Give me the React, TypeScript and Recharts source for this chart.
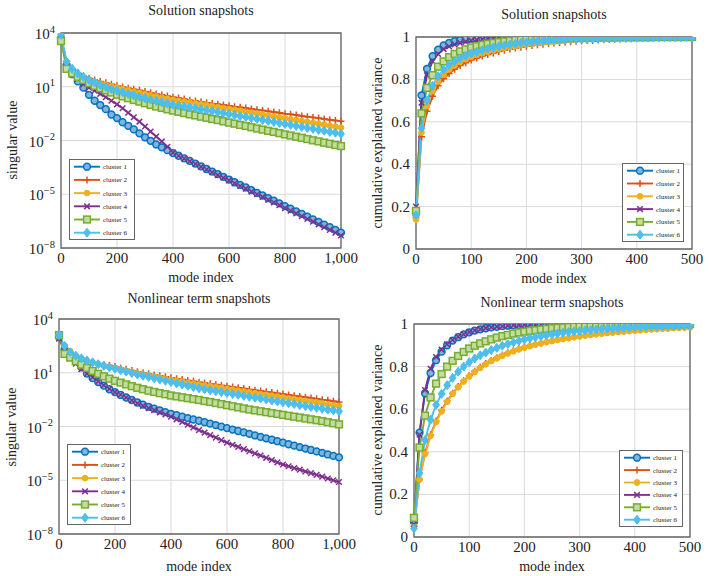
import React from 'react';
import { LineChart, Line, XAxis, YAxis, CartesianGrid, ReferenceArea } from 'recharts';

const FONT = '"Liberation Serif", "DejaVu Serif", serif';

// mode index positions of the plotted markers
const modeIndex1000 = [
  0, 20, 40, 60, 80, 100, 120, 140, 160, 180, 200, 220, 240, 260, 280, 300, 320, 340, 360, 380, 400,
  420, 440, 460, 480, 500, 520, 540, 560, 580, 600, 620, 640, 660, 680, 700, 720, 740, 760, 780, 800,
  820, 840, 860, 880, 900, 920, 940, 960, 980, 1000,
];
const modeIndex500 = [
  0, 10, 20, 30, 40, 50, 60, 70, 80, 90, 100, 110, 120, 130, 140, 150, 160, 170, 180, 190, 200,
  210, 220, 230, 240, 250, 260, 270, 280, 290, 300, 310, 320, 330, 340, 350, 360, 370, 380, 390, 400,
  410, 420, 430, 440, 450, 460, 470, 480, 490, 500,
];

// Solution snapshots: singular values, stored as log10
const solSvLog1 = [3.7, 2.2, 1.7, 1.3, 0.95, 0.55, 0.22, -0.02, -0.25, -0.55, -0.75, -0.98, -1.18, -1.38, -1.6, -1.82, -2.02, -2.22, -2.38, -2.54, -2.7, -2.85, -3.0, -3.14, -3.29, -3.44, -3.59, -3.74, -3.88, -4.03, -4.18, -4.33, -4.48, -4.62, -4.77, -4.92, -5.07, -5.22, -5.36, -5.51, -5.66, -5.81, -5.96, -6.1, -6.25, -6.4, -6.55, -6.7, -6.84, -6.99, -7.14];
const solSvLog2 = [3.7, 2.4, 2.0, 1.75, 1.6, 1.48, 1.38, 1.3, 1.22, 1.14, 1.06, 0.99, 0.92, 0.86, 0.8, 0.73, 0.67, 0.6, 0.54, 0.48, 0.42, 0.37, 0.31, 0.25, 0.2, 0.15, 0.11, 0.06, 0.02, -0.02, -0.06, -0.11, -0.15, -0.19, -0.24, -0.28, -0.32, -0.37, -0.41, -0.45, -0.5, -0.54, -0.58, -0.63, -0.67, -0.71, -0.75, -0.8, -0.84, -0.88, -0.93];
const solSvLog3 = [3.7, 2.4, 1.95, 1.7, 1.52, 1.4, 1.28, 1.18, 1.1, 1.02, 0.95, 0.87, 0.8, 0.73, 0.66, 0.59, 0.52, 0.46, 0.39, 0.33, 0.27, 0.22, 0.17, 0.12, 0.07, 0.02, -0.03, -0.08, -0.14, -0.19, -0.24, -0.29, -0.34, -0.4, -0.45, -0.5, -0.55, -0.6, -0.66, -0.71, -0.76, -0.81, -0.86, -0.92, -0.97, -1.02, -1.07, -1.12, -1.18, -1.23, -1.28];
const solSvLog4 = [3.7, 2.3, 1.85, 1.45, 1.15, 0.95, 0.78, 0.6, 0.42, 0.22, 0.02, -0.2, -0.45, -0.7, -0.95, -1.22, -1.5, -1.78, -2.05, -2.35, -2.68, -2.85, -3.01, -3.16, -3.31, -3.47, -3.62, -3.77, -3.93, -4.08, -4.23, -4.39, -4.54, -4.69, -4.85, -5.0, -5.15, -5.31, -5.46, -5.61, -5.77, -5.92, -6.07, -6.23, -6.38, -6.53, -6.69, -6.84, -6.99, -7.15, -7.3];
const solSvLog5 = [3.55, 2.0, 1.75, 1.55, 1.38, 1.2, 1.05, 0.92, 0.8, 0.68, 0.56, 0.46, 0.36, 0.26, 0.17, 0.08, -0.01, -0.1, -0.18, -0.26, -0.33, -0.4, -0.47, -0.54, -0.6, -0.67, -0.73, -0.8, -0.86, -0.93, -1.0, -1.06, -1.13, -1.19, -1.26, -1.33, -1.39, -1.46, -1.52, -1.59, -1.66, -1.72, -1.79, -1.85, -1.92, -1.99, -2.05, -2.12, -2.18, -2.25, -2.31];
const solSvLog6 = [3.9, 2.4, 2.0, 1.75, 1.55, 1.38, 1.23, 1.1, 0.98, 0.87, 0.78, 0.69, 0.6, 0.52, 0.44, 0.36, 0.28, 0.21, 0.14, 0.07, 0.0, -0.05, -0.1, -0.15, -0.2, -0.25, -0.31, -0.36, -0.42, -0.47, -0.53, -0.58, -0.64, -0.69, -0.75, -0.8, -0.86, -0.91, -0.97, -1.02, -1.08, -1.13, -1.19, -1.24, -1.3, -1.35, -1.41, -1.46, -1.52, -1.57, -1.63];

// Nonlinear term snapshots: singular values, log10
const nlSvLog1 = [3.0, 2.3, 1.95, 1.65, 1.3, 0.95, 0.7, 0.48, 0.28, 0.08, -0.08, -0.24, -0.38, -0.52, -0.66, -0.78, -0.9, -1.0, -1.1, -1.2, -1.29, -1.37, -1.45, -1.53, -1.61, -1.68, -1.76, -1.84, -1.92, -2.01, -2.09, -2.17, -2.25, -2.33, -2.41, -2.5, -2.58, -2.66, -2.74, -2.82, -2.9, -2.99, -3.07, -3.15, -3.23, -3.31, -3.39, -3.47, -3.56, -3.64, -3.72];
const nlSvLog2 = [3.0, 2.45, 2.15, 1.95, 1.8, 1.68, 1.6, 1.52, 1.45, 1.4, 1.35, 1.27, 1.2, 1.13, 1.06, 1.0, 0.94, 0.88, 0.83, 0.77, 0.72, 0.67, 0.62, 0.57, 0.52, 0.47, 0.43, 0.38, 0.34, 0.29, 0.25, 0.2, 0.16, 0.12, 0.07, 0.03, -0.02, -0.06, -0.1, -0.15, -0.19, -0.24, -0.28, -0.32, -0.37, -0.41, -0.45, -0.5, -0.54, -0.59, -0.63];
const nlSvLog3 = [3.0, 2.5, 2.2, 1.95, 1.8, 1.67, 1.57, 1.48, 1.4, 1.33, 1.26, 1.18, 1.11, 1.04, 0.97, 0.9, 0.84, 0.78, 0.72, 0.66, 0.6, 0.55, 0.5, 0.44, 0.39, 0.34, 0.29, 0.25, 0.2, 0.15, 0.1, 0.05, 0.0, -0.04, -0.09, -0.14, -0.19, -0.23, -0.28, -0.33, -0.38, -0.43, -0.47, -0.52, -0.57, -0.62, -0.66, -0.71, -0.76, -0.81, -0.86];
const nlSvLog4 = [2.9, 2.2, 1.8, 1.5, 1.2, 0.95, 0.75, 0.52, 0.3, 0.1, -0.08, -0.22, -0.38, -0.54, -0.7, -0.85, -0.97, -1.09, -1.21, -1.33, -1.45, -1.6, -1.75, -1.9, -2.05, -2.2, -2.34, -2.48, -2.62, -2.76, -2.9, -3.02, -3.14, -3.26, -3.38, -3.5, -3.62, -3.75, -3.87, -4.0, -4.12, -4.22, -4.32, -4.41, -4.51, -4.6, -4.7, -4.8, -4.9, -5.0, -5.1];
const nlSvLog5 = [3.1, 2.05, 1.85, 1.65, 1.45, 1.27, 1.1, 0.94, 0.8, 0.67, 0.55, 0.45, 0.35, 0.25, 0.16, 0.08, 0.0, -0.07, -0.14, -0.2, -0.27, -0.32, -0.37, -0.42, -0.47, -0.52, -0.58, -0.63, -0.69, -0.75, -0.81, -0.87, -0.93, -0.99, -1.05, -1.1, -1.15, -1.2, -1.25, -1.3, -1.35, -1.4, -1.45, -1.5, -1.55, -1.6, -1.65, -1.7, -1.76, -1.82, -1.88];
const nlSvLog6 = [3.1, 2.5, 2.15, 1.95, 1.8, 1.68, 1.58, 1.48, 1.39, 1.3, 1.22, 1.14, 1.06, 0.98, 0.9, 0.83, 0.76, 0.69, 0.62, 0.55, 0.48, 0.41, 0.34, 0.27, 0.2, 0.13, 0.08, 0.03, -0.03, -0.08, -0.13, -0.18, -0.23, -0.29, -0.34, -0.39, -0.44, -0.49, -0.55, -0.6, -0.65, -0.7, -0.75, -0.81, -0.86, -0.91, -0.96, -1.01, -1.06, -1.1, -1.15];

// Solution snapshots: cumulative explained variance
const solCev1 = [0.17, 0.725, 0.85, 0.91, 0.94, 0.96, 0.972, 0.98, 0.985, 0.989, 0.992, 0.994, 0.995, 0.996, 0.997, 0.998, 0.998, 0.999, 0.999, 0.999, 1, 1, 1, 1, 1, 1, 1, 1, 1, 1, 1, 1, 1, 1, 1, 1, 1, 1, 1, 1, 1, 1, 1, 1, 1, 1, 1, 1, 1, 1, 1];
const solCev2 = [0.15, 0.53, 0.65, 0.72, 0.77, 0.803, 0.828, 0.848, 0.865, 0.879, 0.891, 0.901, 0.91, 0.918, 0.925, 0.932, 0.938, 0.943, 0.948, 0.952, 0.956, 0.96, 0.963, 0.966, 0.969, 0.972, 0.974, 0.976, 0.978, 0.98, 0.982, 0.983, 0.984, 0.986, 0.987, 0.988, 0.989, 0.99, 0.991, 0.992, 0.993, 0.994, 0.994, 0.995, 0.995, 0.996, 0.996, 0.997, 0.997, 0.998, 0.998];
const solCev3 = [0.14, 0.55, 0.675, 0.745, 0.79, 0.822, 0.847, 0.866, 0.882, 0.895, 0.906, 0.915, 0.923, 0.93, 0.937, 0.943, 0.948, 0.953, 0.957, 0.961, 0.965, 0.968, 0.971, 0.974, 0.976, 0.978, 0.98, 0.982, 0.984, 0.986, 0.987, 0.988, 0.989, 0.99, 0.991, 0.992, 0.993, 0.994, 0.994, 0.995, 0.996, 0.996, 0.997, 0.997, 0.997, 0.998, 0.998, 0.998, 0.999, 0.999, 0.999];
const solCev4 = [0.2, 0.69, 0.82, 0.885, 0.92, 0.943, 0.955, 0.965, 0.972, 0.978, 0.983, 0.987, 0.99, 0.992, 0.994, 0.995, 0.996, 0.997, 0.998, 0.998, 0.999, 0.999, 0.999, 0.999, 1, 1, 1, 1, 1, 1, 1, 1, 1, 1, 1, 1, 1, 1, 1, 1, 1, 1, 1, 1, 1, 1, 1, 1, 1, 1, 1];
const solCev5 = [0.18, 0.64, 0.76, 0.82, 0.86, 0.885, 0.905, 0.92, 0.932, 0.942, 0.95, 0.957, 0.963, 0.968, 0.972, 0.976, 0.979, 0.982, 0.985, 0.987, 0.989, 0.99, 0.991, 0.992, 0.993, 0.994, 0.995, 0.995, 0.996, 0.996, 0.997, 0.997, 0.997, 0.998, 0.998, 0.998, 0.998, 0.999, 0.999, 0.999, 0.999, 0.999, 0.999, 1, 1, 1, 1, 1, 1, 1, 1];
const solCev6 = [0.16, 0.57, 0.7, 0.77, 0.815, 0.845, 0.868, 0.885, 0.9, 0.912, 0.922, 0.93, 0.938, 0.945, 0.951, 0.956, 0.96, 0.965, 0.968, 0.972, 0.975, 0.977, 0.98, 0.982, 0.984, 0.986, 0.987, 0.988, 0.99, 0.991, 0.992, 0.993, 0.993, 0.994, 0.995, 0.995, 0.996, 0.996, 0.997, 0.997, 0.997, 0.998, 0.998, 0.998, 0.998, 0.999, 0.999, 0.999, 0.999, 0.999, 0.999];

// Nonlinear term snapshots: cumulative explained variance
const nlCev1 = [0.07, 0.49, 0.675, 0.77, 0.83, 0.87, 0.9, 0.922, 0.938, 0.951, 0.961, 0.969, 0.975, 0.98, 0.984, 0.987, 0.99, 0.992, 0.994, 0.995, 0.996, 0.997, 0.997, 0.998, 0.998, 0.998, 0.999, 0.999, 0.999, 0.999, 0.999, 1, 1, 1, 1, 1, 1, 1, 1, 1, 1, 1, 1, 1, 1, 1, 1, 1, 1, 1, 1];
const nlCev2 = [0.05, 0.27, 0.395, 0.48, 0.545, 0.595, 0.638, 0.675, 0.706, 0.733, 0.757, 0.778, 0.797, 0.814, 0.829, 0.842, 0.854, 0.865, 0.875, 0.884, 0.892, 0.899, 0.905, 0.911, 0.917, 0.922, 0.927, 0.932, 0.936, 0.94, 0.944, 0.948, 0.951, 0.954, 0.957, 0.96, 0.962, 0.965, 0.967, 0.969, 0.971, 0.973, 0.975, 0.977, 0.978, 0.98, 0.981, 0.983, 0.984, 0.985, 0.986];
const nlCev3 = [0.05, 0.27, 0.39, 0.475, 0.54, 0.59, 0.635, 0.672, 0.703, 0.73, 0.754, 0.775, 0.794, 0.811, 0.826, 0.839, 0.851, 0.862, 0.872, 0.881, 0.889, 0.896, 0.903, 0.909, 0.915, 0.92, 0.925, 0.93, 0.934, 0.938, 0.942, 0.946, 0.949, 0.952, 0.955, 0.958, 0.96, 0.963, 0.965, 0.967, 0.969, 0.971, 0.973, 0.975, 0.976, 0.978, 0.979, 0.981, 0.982, 0.983, 0.984];
const nlCev4 = [0.06, 0.48, 0.69, 0.79, 0.845, 0.88, 0.905, 0.925, 0.94, 0.952, 0.962, 0.97, 0.976, 0.981, 0.985, 0.988, 0.99, 0.992, 0.994, 0.995, 0.996, 0.997, 0.997, 0.998, 0.998, 0.998, 0.999, 0.999, 0.999, 0.999, 0.999, 1, 1, 1, 1, 1, 1, 1, 1, 1, 1, 1, 1, 1, 1, 1, 1, 1, 1, 1, 1];
const nlCev5 = [0.09, 0.42, 0.57, 0.655, 0.72, 0.765, 0.8, 0.827, 0.85, 0.869, 0.885, 0.898, 0.909, 0.919, 0.928, 0.936, 0.943, 0.949, 0.955, 0.96, 0.964, 0.968, 0.971, 0.974, 0.977, 0.98, 0.982, 0.984, 0.986, 0.988, 0.989, 0.99, 0.991, 0.992, 0.993, 0.994, 0.995, 0.995, 0.996, 0.996, 0.997, 0.997, 0.998, 0.998, 0.998, 0.999, 0.999, 0.999, 0.999, 1, 1];
const nlCev6 = [0.04, 0.3, 0.455, 0.55, 0.62, 0.672, 0.713, 0.747, 0.776, 0.8, 0.82, 0.838, 0.853, 0.866, 0.878, 0.888, 0.898, 0.906, 0.914, 0.921, 0.927, 0.933, 0.938, 0.943, 0.947, 0.951, 0.955, 0.959, 0.962, 0.965, 0.967, 0.97, 0.972, 0.974, 0.976, 0.978, 0.979, 0.981, 0.982, 0.984, 0.985, 0.986, 0.987, 0.988, 0.989, 0.99, 0.991, 0.991, 0.992, 0.993, 0.993];

const clusterNames = ['cluster 1', 'cluster 2', 'cluster 3', 'cluster 4', 'cluster 5', 'cluster 6'];
const xTicks1000 = [0, 200, 400, 600, 800, 1000];
const xTicks500 = [0, 100, 200, 300, 400, 500];
const logTicks = [1e-8, 1e-5, 1e-2, 1e1, 1e4];
const linTicks = [0, 0.2, 0.4, 0.6, 0.8, 1];

type Shape = 'circle' | 'plus' | 'dot' | 'cross' | 'square' | 'diamond';
const SERIES: { key: string; color: string; fill: string; shape: Shape }[] = [
  { key: 'c1', color: '#0072BD', fill: '#7fb5dd', shape: 'circle' },
  { key: 'c2', color: '#D95319', fill: '#D95319', shape: 'plus' },
  { key: 'c3', color: '#EDB120', fill: '#EDB120', shape: 'dot' },
  { key: 'c4', color: '#7E2F8E', fill: '#7E2F8E', shape: 'cross' },
  { key: 'c5', color: '#77AC30', fill: '#c3dc9f', shape: 'square' },
  { key: 'c6', color: '#4DBEEE', fill: '#4DBEEE', shape: 'diamond' },
];

function buildRows(x: number[], cols: number[][], fromLog: boolean) {
  return x.map((m, i) => {
    const row: any = { mode: m };
    cols.forEach((c, j) => {
      row[`c${j + 1}`] = fromLog ? Math.pow(10, c[i]) : c[i];
    });
    return row;
  });
}

const solSvData = buildRows(modeIndex1000, [solSvLog1, solSvLog2, solSvLog3, solSvLog4, solSvLog5, solSvLog6], true);
const nlSvData = buildRows(modeIndex1000, [nlSvLog1, nlSvLog2, nlSvLog3, nlSvLog4, nlSvLog5, nlSvLog6], true);
const solCevData = buildRows(modeIndex500, [solCev1, solCev2, solCev3, solCev4, solCev5, solCev6], false);
const nlCevData = buildRows(modeIndex500, [nlCev1, nlCev2, nlCev3, nlCev4, nlCev5, nlCev6], false);

function Marker({ shape, cx, cy, color, fill }: { shape: Shape; cx: number; cy: number; color: string; fill: string }) {
  if (cx == null || cy == null || isNaN(cx) || isNaN(cy)) return null;
  switch (shape) {
    case 'circle':
      return <circle cx={cx} cy={cy} r={3.4} fill={fill} stroke={color} strokeWidth={1.5} />;
    case 'plus':
      return <path d={`M${cx - 3.5},${cy}H${cx + 3.5}M${cx},${cy - 3.5}V${cy + 3.5}`} stroke={color} strokeWidth={1.5} fill="none" />;
    case 'dot':
      return <circle cx={cx} cy={cy} r={2.9} fill={fill} stroke={color} strokeWidth={1} />;
    case 'cross':
      return <path d={`M${cx - 2.8},${cy - 2.8}L${cx + 2.8},${cy + 2.8}M${cx - 2.8},${cy + 2.8}L${cx + 2.8},${cy - 2.8}`} stroke={color} strokeWidth={1.5} fill="none" />;
    case 'square':
      return <rect x={cx - 3.4} y={cy - 3.4} width={6.8} height={6.8} fill={fill} stroke={color} strokeWidth={1.5} />;
    case 'diamond':
      return <path d={`M${cx},${cy - 4.5}L${cx + 3.4},${cy}L${cx},${cy + 4.5}L${cx - 3.4},${cy}Z`} fill={fill} stroke={color} strokeWidth={1} />;
  }
  return null;
}

const XTick = (p: any) => (
  <text x={p.x} y={p.y + 15} textAnchor="middle" fontSize={15} fill="#222" fontFamily={FONT}>
    {Number(p.payload.value).toLocaleString('en-US')}
  </text>
);

const LogYTick = (p: any) => {
  const e = Math.round(Math.log10(p.payload.value));
  return (
    <text x={p.x - 6} y={p.y + 6} textAnchor="end" fontSize={15} fill="#222" fontFamily={FONT}>
      10<tspan dy={-6.5} fontSize={10.5}>{e < 0 ? `\u2212${-e}` : `${e}`}</tspan>
    </text>
  );
};

const LinYTick = (p: any) => (
  <text x={p.x - 6} y={p.y + 5} textAnchor="end" fontSize={15} fill="#222" fontFamily={FONT}>
    {String(p.payload.value)}
  </text>
);

const Y_W = 48;
const X_H = 30;

type PanelProps = {
  left: number; top: number; width: number; height: number;
  plot: [number, number, number, number];
  data: any[]; log: boolean; xMax: number; xTicks: number[];
};

function Panel({ left, top, width, height, plot, data, log, xMax, xTicks }: PanelProps) {
  const margin = {
    top: plot[1] - top,
    left: plot[0] - left - Y_W,
    right: left + width - plot[2],
    bottom: top + height - plot[3] - X_H,
  };
  const yDomain = log ? [1e-8, 1e4] : [0, 1];
  return (
    <div style={{ position: 'absolute', left, top }}>
      <LineChart width={width} height={height} data={data} margin={margin}>
        <CartesianGrid stroke="#dadada" strokeWidth={1} />
        <XAxis dataKey="mode" type="number" domain={[0, xMax]} ticks={xTicks} interval={0}
          tick={<XTick />} tickLine={false} axisLine={false} tickSize={0} tickMargin={0} height={X_H} />
        <YAxis type="number" scale={log ? 'log' : 'linear'} domain={yDomain} ticks={log ? logTicks : linTicks}
          interval={0} allowDataOverflow tick={log ? <LogYTick /> : <LinYTick />} tickLine={false}
          axisLine={false} tickSize={0} tickMargin={0} width={Y_W} />
        {SERIES.map((s) => (
          <Line key={s.key} dataKey={s.key} stroke={s.color} strokeWidth={1.9} isAnimationActive={false}
            activeDot={false}
            dot={(p: any) => (
              <Marker key={`${s.key}-${p.index}`} shape={s.shape} cx={p.cx} cy={p.cy} color={s.color} fill={s.fill} />
            )} />
        ))}
        <ReferenceArea x1={0} x2={xMax} y1={yDomain[0]} y2={yDomain[1]} fill="none" stroke="#666"
          strokeWidth={1.3} fillOpacity={0} />
      </LineChart>
    </div>
  );
}

function LegendBox({ x, y, w, h }: { x: number; y: number; w: number; h: number }) {
  const step = (h - 15) / 5;
  return (
    <svg style={{ position: 'absolute', left: x, top: y }} width={w} height={h}>
      <rect x={0.5} y={0.5} width={w - 1} height={h - 1} fill="#fff" stroke="#666" strokeWidth={1} />
      {SERIES.map((s, i) => {
        const cy = 7.7 + i * step;
        return (
          <g key={s.key}>
            <line x1={5} x2={31} y1={cy} y2={cy} stroke={s.color} strokeWidth={1.9} />
            <Marker shape={s.shape} cx={18} cy={cy} color={s.color} fill={s.fill} />
            <text x={34} y={cy + 2.5} fontSize={7} fill="#222" fontFamily={FONT}>{clusterNames[i]}</text>
          </g>
        );
      })}
    </svg>
  );
}

function Txt({ x, y, size, children, rotate }: { x: number; y: number; size: number; children: any; rotate?: boolean }) {
  return (
    <div style={{
      position: 'absolute', left: x, top: y, fontFamily: FONT, fontSize: size, color: '#222',
      whiteSpace: 'nowrap', lineHeight: 1, transform: `translate(-50%, -50%)${rotate ? ' rotate(-90deg)' : ''}`,
    }}>{children}</div>
  );
}

export default function App() {
  return (
    <div style={{ position: 'absolute', left: 0, top: 0, width: 709, height: 576, background: '#fff', overflow: 'hidden' }}>
      <style>{'.recharts-surface { overflow: visible; } .recharts-wrapper { overflow: visible; }'}</style>
      <Panel left={0} top={0} width={354} height={290} plot={[61, 33, 341, 248]} data={solSvData} log xMax={1000} xTicks={xTicks1000} />
      <Panel left={354} top={0} width={355} height={290} plot={[416, 37, 692, 249]} data={solCevData} log={false} xMax={500} xTicks={xTicks500} />
      <Panel left={0} top={290} width={354} height={286} plot={[59, 319, 339, 534]} data={nlSvData} log xMax={1000} xTicks={xTicks1000} />
      <Panel left={354} top={290} width={355} height={286} plot={[414, 324, 690, 537]} data={nlCevData} log={false} xMax={500} xTicks={xTicks500} />

      <LegendBox x={69} y={159} w={66} h={81} />
      <LegendBox x={622} y={163} w={62} h={79} />
      <LegendBox x={67} y={444} w={64} h={81} />
      <LegendBox x={619} y={450} w={64} h={77} />

      <Txt x={201} y={11} size={14}>Solution snapshots</Txt>
      <Txt x={554} y={15} size={14}>Solution snapshots</Txt>
      <Txt x={199} y={299} size={14}>Nonlinear term snapshots</Txt>
      <Txt x={552} y={303} size={14}>Nonlinear term snapshots</Txt>

      <Txt x={201} y={278} size={14}>mode index</Txt>
      <Txt x={554} y={279} size={14}>mode index</Txt>
      <Txt x={199} y={567} size={14}>mode index</Txt>
      <Txt x={552} y={567} size={14}>mode index</Txt>

      <Txt x={13} y={140} size={14} rotate>singular value</Txt>
      <Txt x={378} y={143} size={14} rotate>cumulative explained variance</Txt>
      <Txt x={12} y={427} size={14} rotate>singular value</Txt>
      <Txt x={378} y={430} size={14} rotate>cumulative explained variance</Txt>
    </div>
  );
}
